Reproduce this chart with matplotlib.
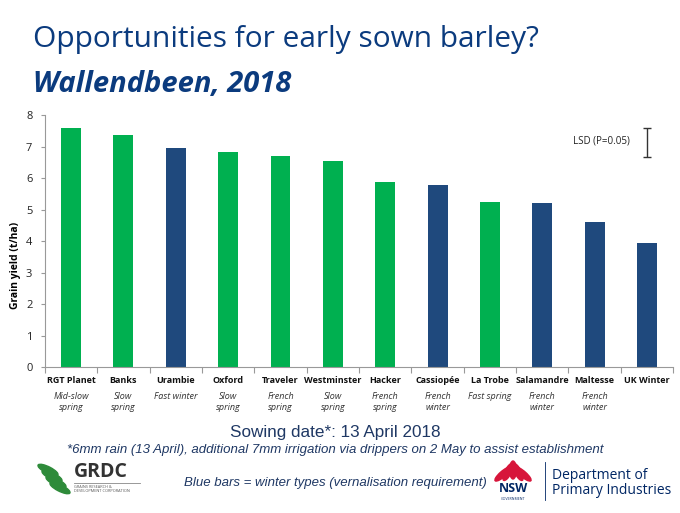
import matplotlib
matplotlib.use("Agg")
import matplotlib.pyplot as plt
from matplotlib.patches import Ellipse

plt.rcParams['font.family'] = ['Open Sans', 'DejaVu Sans']

varieties = ["RGT Planet", "Banks", "Urambie", "Oxford", "Traveler", "Westminster",
             "Hacker", "Cassiopée", "La Trobe", "Salamandre", "Maltesse", "UK Winter"]
types = ["Mid-slow\nspring", "Slow\nspring", "Fast winter", "Slow\nspring", "French\nspring",
         "Slow\nspring", "French\nspring", "French\nwinter", "Fast spring", "French\nwinter",
         "French\nwinter", ""]
yields = [7.59, 7.37, 6.95, 6.85, 6.70, 6.55, 5.88, 5.79, 5.25, 5.21, 4.62, 3.93]
is_winter = [False, False, True, False, False, False, False, True, False, True, True, True]
lsd_top, lsd_bottom = 7.59, 6.67
yticks = [0, 1, 2, 3, 4, 5, 6, 7, 8]

GREEN = "#00B050"
BLUE = "#1F497D"
TITLE = "#0B3B7E"
NOTE = "#1F3864"

fig = plt.figure(figsize=(6.8, 5.13), dpi=100)
ax = fig.add_axes([0.066, 0.2846, 0.924, 0.4906])

n = len(varieties)
x = list(range(n))
colors = [BLUE if w else GREEN for w in is_winter]
ax.bar(x, yields, width=0.38, color=colors, zorder=2)
ax.set_xlim(-0.5, n - 0.5)
ax.set_ylim(0, 8)
ax.set_yticks(yticks)
ax.set_yticklabels([str(t) for t in yticks], fontsize=8, color="#222222")
ax.set_xticks([i + 0.5 for i in range(-1, n)])
ax.set_xticklabels([])
ax.tick_params(axis='x', length=4, color="#999999", direction='out')
ax.tick_params(axis='y', length=3, color="#999999", direction='out', pad=6)
for s in ["top", "right"]:
    ax.spines[s].set_visible(False)
for s in ["left", "bottom"]:
    ax.spines[s].set_color("#999999")
    ax.spines[s].set_linewidth(0.8)

# category labels
for i in x:
    ax.text(i, -0.28, varieties[i], ha='center', va='top', fontsize=6.5,
            fontweight='bold', color="#111111")
    if types[i]:
        ax.text(i, -0.78, types[i], ha='center', va='top', fontsize=6.5,
                style='italic', color="#333333", linespacing=1.4)

ax.set_ylabel("Grain yield (t/ha)", fontsize=7.5, fontweight='bold')
ax.yaxis.set_label_coords(-0.038, 0.405)

# LSD bar
lsd_x = n - 1
ax.errorbar([lsd_x], [(lsd_top + lsd_bottom) / 2], yerr=[(lsd_top - lsd_bottom) / 2],
            fmt='none', ecolor="#333333", elinewidth=1, capsize=3, capthick=1)
ax.text(lsd_x - 0.32, (lsd_top + lsd_bottom) / 2 + 0.05, "LSD (P=0.05)", ha='right',
        va='center', fontsize=7, color="#222222")

# titles
fig.text(33 / 680, 1 - 40 / 513, "Opportunities for early sown barley?", fontsize=21.5,
         color=TITLE, ha='left', va='center')
fig.text(33 / 680, 1 - 84 / 513, "Wallendbeen, 2018", fontsize=21, fontweight='bold',
         style='italic', color=TITLE, ha='left', va='center')

NOTEFONT = ['Liberation Sans', 'DejaVu Sans']
fig.text(335 / 680, 1 - 433 / 513, "Sowing date*: 13 April 2018", fontsize=12.3,
         color=NOTE, ha='center', va='center', family=NOTEFONT)
fig.text(335 / 680, 1 - 450 / 513,
         "*6mm rain (13 April), additional 7mm irrigation via drippers on 2 May to assist establishment",
         fontsize=9.5, style='italic', color=NOTE, ha='center', va='center', family=NOTEFONT)
fig.text(335 / 680, 1 - 483 / 513, "Blue bars = winter types (vernalisation requirement)",
         fontsize=9.5, style='italic', color=NOTE, ha='center', va='center', family=NOTEFONT)

# GRDC logo (approximate)
fig.text(74 / 680, 1 - 472 / 513, "GRDC", fontsize=14, fontweight='bold', color="#333333",
         ha='left', va='center')
fig.add_artist(plt.Line2D([74 / 680, 140 / 680], [1 - 483 / 513, 1 - 483 / 513],
                          color="#888888", lw=0.6, transform=fig.transFigure))
fig.text(74 / 680, 1 - 489 / 513, "GRAINS RESEARCH &\nDEVELOPMENT CORPORATION",
         fontsize=2.8, color="#555555", ha='left', va='center', linespacing=1.2)
for k in range(4):
    e = Ellipse(((48 + k * 4) / 680, 1 - (470 + k * 6) / 513), 0.035, 0.012, angle=-35,
                color="#2E8B3A", transform=fig.transFigure)
    fig.add_artist(e)

# NSW logo (approximate)
for k in range(5):
    e = Ellipse(((513 + (k - 2) * 5) / 680, 1 - (470 + abs(k - 2) * 2) / 513), 0.01, 0.035,
                angle=(k - 2) * 20, color="#D7153A", transform=fig.transFigure)
    fig.add_artist(e)
fig.text(513 / 680, 1 - 489 / 513, "NSW", fontsize=9, fontweight='bold', color="#002664",
         ha='center', va='center')
fig.text(513 / 680, 1 - 499 / 513, "GOVERNMENT", fontsize=2.5, color="#002664",
         ha='center', va='center')
fig.add_artist(plt.Line2D([545 / 680, 545 / 680], [1 - 462 / 513, 1 - 500 / 513],
                          color="#002664", lw=0.6, transform=fig.transFigure))
fig.text(552 / 680, 1 - 483 / 513, "Department of\nPrimary Industries", fontsize=10,
         color="#002664", ha='left', va='center', linespacing=1.0)

fig.savefig("out.png", dpi=100, facecolor="white")
